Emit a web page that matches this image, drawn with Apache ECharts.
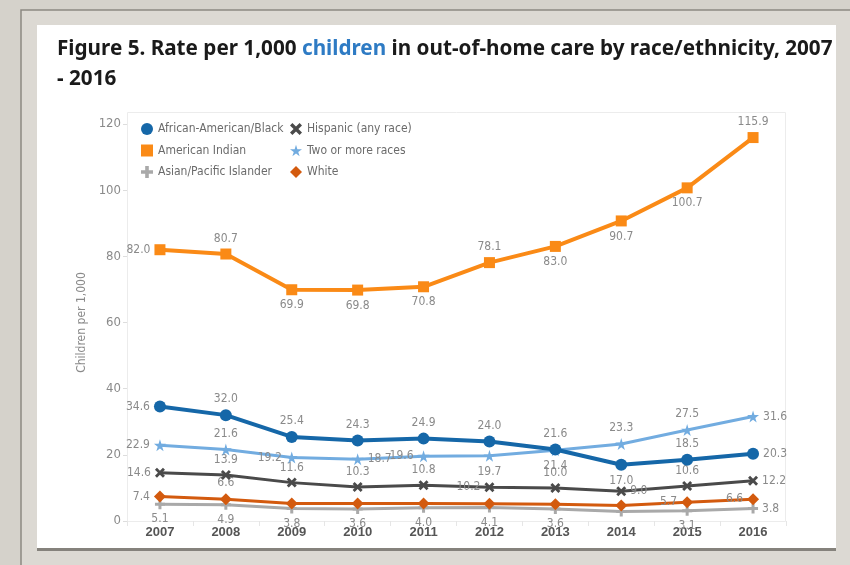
<!DOCTYPE html>
<html>
<head>
<meta charset="utf-8">
<script src="https://cdn.jsdelivr.net/npm/echarts@6/dist/echarts.min.js"></script>
<style>
html, body { margin: 0; padding: 0; }
#main { width: 850px; height: 565px; }
</style>
</head>
<body>
<div id="main"></div>
<script>
var years = ['2007', '2008', '2009', '2010', '2011', '2012', '2013', '2014', '2015', '2016'];
var yTicks = [0, 20, 40, 60, 80, 100, 120];

var black = [34.6, 32.0, 25.4, 24.3, 24.9, 24.0, 21.6, 17.0, 18.5, 20.3];
var amIndian = [82.0, 80.7, 69.9, 69.8, 70.8, 78.1, 83.0, 90.7, 100.7, 115.9];
var asian = [5.1, 4.9, 3.8, 3.6, 4.0, 4.1, 3.6, 2.9, 3.1, 3.8];
var hispanic = [14.6, 13.9, 11.6, 10.3, 10.8, 10.2, 10.0, 9.0, 10.6, 12.2];
var twoOrMore = [22.9, 21.6, 19.2, 18.7, 19.6, 19.7, 21.4, 23.3, 27.5, 31.6];
var white = [7.4, 6.6, 5.3, 5.3, 5.3, 5.2, 5.1, 4.7, 5.7, 6.6];

// where each value label sits (null = hidden behind the lines in the original)
var posBlack = ['left', 'top', 'top', 'top', 'top', 'top', 'top', 'bottom', 'top', 'right'];
var posIndian = ['left', 'top', 'bottom', 'bottom', 'bottom', 'top', 'bottom', 'bottom', 'bottom', 'top'];
var posAsian = ['bottom', 'bottom', 'bottom', 'bottom', 'bottom', 'bottom', 'bottom', null, 'bottom', 'right'];
var posHisp = ['left', 'top', 'top', 'top', 'top', 'left', 'top', 'right', 'top', 'right'];
var posTwo = ['left', 'top', 'left', 'right', 'left', 'bottom', 'bottom', 'top', 'top', 'right'];
var posWhite = ['left', 'top', null, null, null, null, null, null, 'left', 'left'];

var starPath = 'path://M50,0 L61,35 L98,35 L68,57 L79,91 L50,70 L21,91 L32,57 L2,35 L39,35 Z';
var xPath = 'path://M0,2 L2,0 L5,3 L8,0 L10,2 L7,5 L10,8 L8,10 L5,7 L2,10 L0,8 L3,5 Z';
var plusPath = 'path://M3.5,0 H6.5 V3.5 H10 V6.5 H6.5 V10 H3.5 V6.5 H0 V3.5 H3.5 Z';

var narrow = '"DejaVu Sans Condensed", "Liberation Sans Narrow", sans-serif';

function withLabels(values, pos) {
	var out = [];
	for (var i = 0; i < values.length; i++) {
		if (pos[i] === null) {
			out.push({ value: values[i], label: { show: false } });
		} else {
			out.push({ value: values[i], label: { show: true, position: pos[i] } });
		}
	}
	return out;
}

function makeSeries(name, values, pos, color, symbol, size, width, z) {
	return {
		name: name,
		type: 'line',
		data: withLabels(values, pos),
		symbol: symbol,
		symbolSize: size,
		showAllSymbol: true,
		z: z,
		lineStyle: { color: color, width: width },
		itemStyle: { color: color },
		label: {
			color: '#8a8a8a',
			fontFamily: narrow,
			fontSize: 12,
			distance: 4,
			formatter: function (p) { return p.value.toFixed(1); }
		},
		emphasis: { disabled: true }
	};
}

var chart = echarts.init(document.getElementById('main'));

var option = {
	backgroundColor: '#d5d2cb',
	animation: false,
	graphic: [
		{ type: 'rect', shape: { x: 21, y: 10, width: 840, height: 560 }, style: { fill: '#dcd9d3', stroke: '#8c8982', lineWidth: 1.5 }, silent: true, z: -5 },
		{ type: 'rect', shape: { x: 37, y: 25, width: 799, height: 523 }, style: { fill: '#ffffff' }, silent: true, z: -4 },
		{ type: 'rect', shape: { x: 37, y: 548, width: 799, height: 3 }, style: { fill: '#85827c' }, silent: true, z: -4 },
		{ type: 'rect', shape: { x: 127.5, y: 112.5, width: 658, height: 409 }, style: { fill: 'none', stroke: '#ececec', lineWidth: 1 }, silent: true, z: -3 }
	],
	title: {
		left: 57,
		top: 34,
		padding: 0,
		text: '{a|Figure 5. Rate per 1,000 }{b|children}{a| in out-of-home care by race/ethnicity, 2007}\n{a|- 2016}',
		textStyle: {
			rich: {
				a: { fontFamily: '"Noto Sans", sans-serif', fontWeight: 'bold', fontSize: 20.7, color: '#1a1a1a', lineHeight: 30 },
				b: { fontFamily: '"Noto Sans", sans-serif', fontWeight: 'bold', fontSize: 20.7, color: '#2e7bc4', lineHeight: 30 }
			}
		}
	},
	legend: [{
		left: 136,
		top: 118,
		orient: 'vertical',
		itemWidth: 12,
		itemHeight: 12,
		itemGap: 9.5,
		textStyle: { color: '#6b6b6b', fontFamily: narrow, fontSize: 12 },
		data: [
			{ name: 'African-American/Black', icon: 'circle' },
			{ name: 'American Indian', icon: 'rect' },
			{ name: 'Asian/Pacific Islander', icon: plusPath }
		]
	}, {
		left: 285,
		top: 118,
		orient: 'vertical',
		itemWidth: 12,
		itemHeight: 12,
		itemGap: 9.5,
		textStyle: { color: '#6b6b6b', fontFamily: narrow, fontSize: 12 },
		data: [
			{ name: 'Hispanic (any race)', icon: xPath },
			{ name: 'Two or more races', icon: starPath },
			{ name: 'White', icon: 'diamond' }
		]
	}],
	grid: {
		left: 127,
		right: 64,
		top: 124,
		bottom: 44
	},
	xAxis: {
		type: 'category',
		data: years,
		boundaryGap: true,
		axisLine: { show: false },
		axisTick: { show: true, length: 5, lineStyle: { color: '#e6e6e6' } },
		axisLabel: { color: '#555555', fontWeight: 'bold', fontSize: 13, fontFamily: '"Liberation Sans", Arial, sans-serif', margin: 5 }
	},
	yAxis: {
		type: 'value',
		min: yTicks[0],
		max: yTicks[yTicks.length - 1],
		interval: 20,
		name: 'Children per 1,000',
		nameLocation: 'middle',
		nameGap: 34,
		nameTextStyle: { color: '#8a8a8a', fontFamily: narrow, fontSize: 12 },
		axisLine: { show: false },
		axisTick: { show: true, length: 4, lineStyle: { color: '#dddddd' } },
		splitLine: { show: false },
		axisLabel: { color: '#8a8a8a', fontFamily: narrow, fontSize: 13, margin: 6 }
	},
	series: [
		makeSeries('Asian/Pacific Islander', asian, posAsian, '#a9a9a9', plusPath, 10, 3, 2),
		makeSeries('White', white, posWhite, '#d35a0e', 'diamond', 12, 3, 3),
		makeSeries('Hispanic (any race)', hispanic, posHisp, '#4a4a4a', xPath, 10, 3, 4),
		makeSeries('Two or more races', twoOrMore, posTwo, '#72ace0', starPath, 12, 3, 5),
		makeSeries('African-American/Black', black, posBlack, '#1567a8', 'circle', 12, 4, 6),
		makeSeries('American Indian', amIndian, posIndian, '#fa8a16', 'rect', 11, 4, 7)
	]
};

chart.setOption(option);
</script>
</body>
</html>
